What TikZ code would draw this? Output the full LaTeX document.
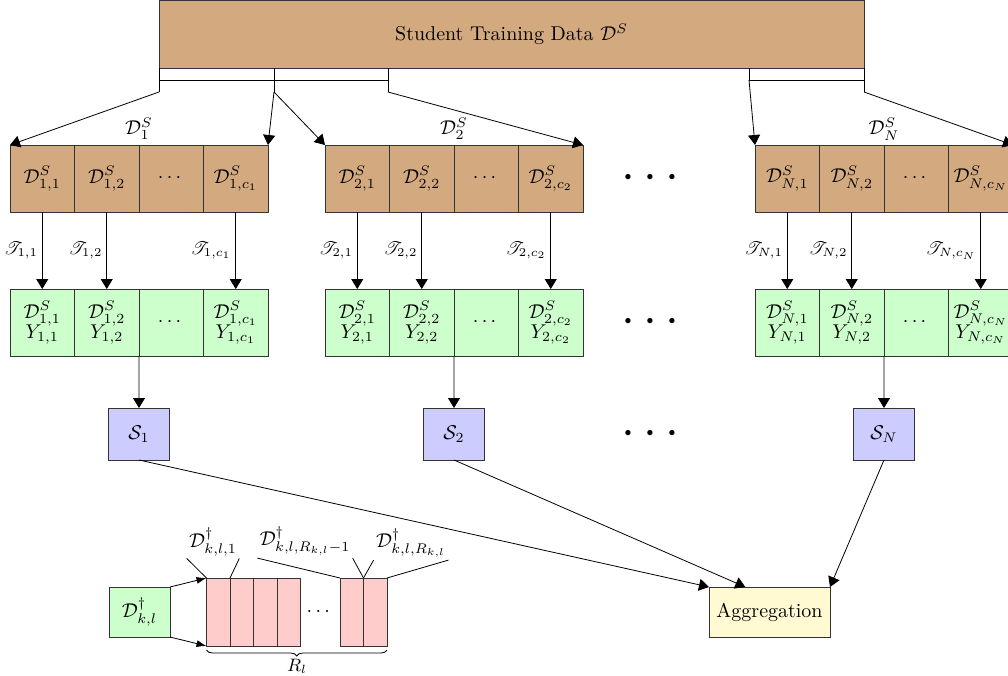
\documentclass[tikz,border=0pt]{standalone}
\usepackage{amsmath,amssymb}
\usepackage{mathrsfs}
\usetikzlibrary{arrows.meta,calc,decorations.pathreplacing}
\definecolor{tanbrown}{RGB}{211,170,128}
\definecolor{cellgreen}{RGB}{204,255,204}
\definecolor{studblue}{RGB}{204,204,255}
\definecolor{aggyellow}{RGB}{255,250,210}
\definecolor{shardpink}{RGB}{255,204,204}
\begin{document}
\begin{tikzpicture}[x=0.0176cm,y=-0.0176cm,
  box/.style={draw=black!80, inner sep=0pt, outer sep=0pt},
  cell/.style={box, minimum width=64.5*0.0176cm, minimum height=67*0.0176cm},
  bcell/.style={cell, fill=tanbrown},
  gcell/.style={cell, fill=cellgreen, align=center},
  sbox/.style={box, fill=studblue, minimum width=61*0.0176cm, minimum height=52*0.0176cm},
  pcell/.style={box, fill=shardpink, minimum width=23.5*0.0176cm, minimum height=68*0.0176cm},
  arr/.style={-{Triangle[length=5pt,width=6pt]}},
  sarr/.style={-{Latex[length=5pt,width=3.5pt]}},
  bigdots/.style={font=\Huge}]
\useasboundingbox (0,0) rectangle (1008,675);
\clip (0,0) rectangle (1008,675);

% full training set
\node[box, fill=tanbrown, minimum width=705*0.0176cm, minimum height=68*0.0176cm]
  (top) at (511.5,34.5) {Student Training Data $\mathcal{D}^S$};

% split markers below the training set
\draw (159,68) -- (159,92) coordinate (k1l);
\draw (274,68) -- (274,92) coordinate (k1r);
\draw (388,68) -- (388,92) coordinate (k2r);
\draw (159,80) -- (388,80);
\draw (749,68) -- (749,80) coordinate (k3l);
\draw (864,68) -- (864,92) coordinate (k3r);
\draw (749,80) -- (864,80);
\coordinate (k2l) at (k1r);

% per-partition rows
\foreach \g/\xo/\s/\c in {1/10/1/c_1, 2/325/2/c_2, 3/755/N/c_N}{
  \node[bcell] (b\g-1) at (\xo+32.25,178.5) {$\mathcal{D}^S_{\s,1}$};
  \node[bcell] (b\g-2) at (\xo+96.75,178.5) {$\mathcal{D}^S_{\s,2}$};
  \node[bcell] (b\g-3) at (\xo+161.25,178.5) {$\cdots$};
  \node[bcell] (b\g-4) at (\xo+225.75,178.5) {$\mathcal{D}^S_{\s,\c}$};
  \node (lab\g) at (\xo+129,129) {$\mathcal{D}^S_{\s}$};

  \node[gcell] (g\g-1) at (\xo+32.25,322.5) {$\mathcal{D}^S_{\s,1}$\\[-2pt]$Y_{\s,1}$};
  \node[gcell] (g\g-2) at (\xo+96.75,322.5) {$\mathcal{D}^S_{\s,2}$\\[-2pt]$Y_{\s,2}$};
  \node[gcell] (g\g-3) at (\xo+161.25,322.5) {$\cdots$};
  \node[gcell] (g\g-4) at (\xo+225.75,322.5) {$\mathcal{D}^S_{\s,\c}$\\[-2pt]$Y_{\s,\c}$};

  \draw[arr] (b\g-1) -- node[left, font=\small, inner sep=2pt] {$\mathscr{T}_{\s,1}$} (g\g-1);
  \draw[arr] (b\g-2) -- node[left, font=\small, inner sep=2pt] {$\mathscr{T}_{\s,2}$} (g\g-2);
  \draw[arr] (b\g-4) -- node[left, font=\small, inner sep=2pt] {$\mathscr{T}_{\s,\c}$} (g\g-4);

  \node[sbox] (S\g) at (\xo+129,434) {$\mathcal{S}_{\s}$};
  \draw[arr] (g\g-2.south east) -- (S\g);

  \draw[arr] (k\g l) -- (b\g-1.north west);
  \draw[arr] (k\g r) -- (b\g-4.north east);
}

% omitted partitions
\node[bigdots] (d1) at (655,178) {$\cdots$};
\node[bigdots] (d2) at (655,322) {$\cdots$};
\node[bigdots] (d3) at (655,434) {$\cdots$};

% aggregation of students
\node[box, fill=aggyellow, minimum width=121*0.0176cm, minimum height=50*0.0176cm]
  (agg) at (769.5,612) {Aggregation};
\coordinate (aggin) at ($(agg.north west)!0.3!(agg.north east)$);
\draw[arr] (S1.south) -- (agg.north west);
\draw[arr] (S2.south) -- (aggin);
\draw[arr] (S3.south) -- (agg.north east);

% splitting of a single subset into shards
\node[box, fill=cellgreen, minimum width=61*0.0176cm, minimum height=50*0.0176cm]
  (dk) at (139.5,612) {$\mathcal{D}^\dagger_{k,l}$};
\node[pcell] (p1) at (218.25,612) {};
\node[pcell] (p2) at (241.75,612) {};
\node[pcell] (p3) at (265.25,612) {};
\node[pcell] (p4) at (288.75,612) {};
\node (pd) at (320,612) {$\cdots$};
\node[pcell] (p5) at (351.75,612) {};
\node[pcell] (p6) at (375.25,612) {};
\draw[sarr] (dk.north east) -- (p1.north west);
\draw[sarr] (dk.south east) -- (p1.south west);

\node[inner sep=1pt] (t1) at (213,542) {$\mathcal{D}^\dagger_{k,l,1}$};
\node[inner sep=1pt] (t2) at (305,541) {$\mathcal{D}^\dagger_{k,l,R_{k,l}-1}$};
\node[inner sep=1pt] (t3) at (411,543) {$\mathcal{D}^\dagger_{k,l,R_{k,l}}$};
\draw (t1.south west) -- (p1.north west);
\draw (t1.south east) -- (p2.north west);
\draw (t2.south west) -- (p5.north west);
\draw (t2.south east) -- (p6.north west);
\draw (t3.south west) -- (p6.north west);
\draw (t3.south east) -- (p6.north east);

\draw[decorate, decoration={brace, mirror, amplitude=3pt}]
  ($(p1.south west)+(0,4)$) -- ($(p6.south east)+(0,4)$);
\node[font=\small] (rl) at (297,666) {$R_l$};
\end{tikzpicture}
\end{document}
